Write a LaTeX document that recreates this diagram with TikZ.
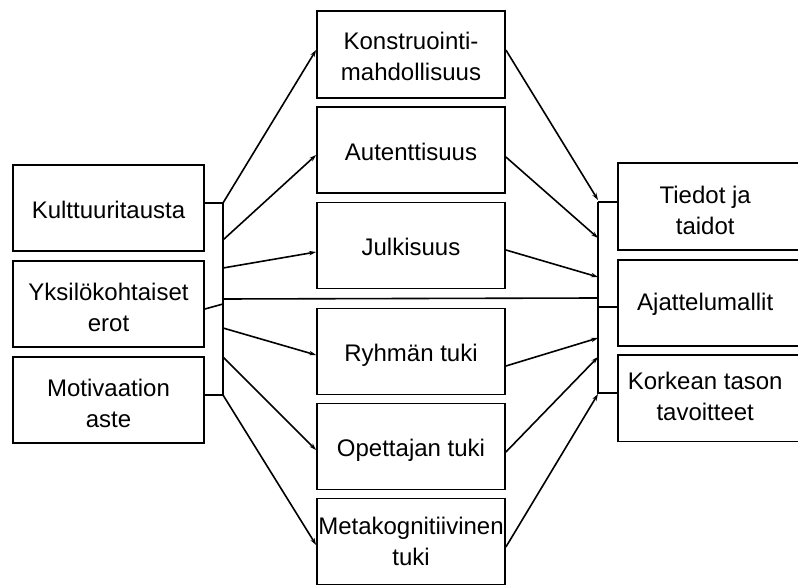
\documentclass[tikz,border=0pt]{standalone}
\usepackage{fontspec}
\setmainfont{Liberation Sans}
\usetikzlibrary{arrows.meta}
\newcommand{\boxtext}[2][-4pt]{\raisebox{#1}[\height][\depth]{\begin{tabular}{@{}c@{}}#2\end{tabular}}}
\begin{document}
\begin{tikzpicture}[x=1pt,y=-1pt,
  box/.style={draw, line width=1.8pt, inner sep=0pt,
    font=\fontsize{24}{31}\selectfont},
  lbox/.style={box, minimum width=191pt, minimum height=86pt},
  mbox/.style={box, minimum width=188pt, minimum height=86pt},
  rbox/.style={inner sep=0pt, anchor=north west,
    minimum width=174pt, minimum height=86pt, font=\fontsize{24}{31}\selectfont},
  conn/.style={line width=1.6pt},
  arr/.style={conn, -{Stealth[length=7pt,width=4.5pt]}}]
\clip (0,0) rectangle (798,585);
% left boxes
\node[lbox] (kult) at (108.5,208) {\boxtext{Kulttuuritausta}};
\node[lbox] (yks)  at (108.5,304) {\boxtext[-6pt]{Yksilökohtaiset\\erot}};
\node[lbox] (mot)  at (108.5,400) {\boxtext[-6pt]{Motivaation\\aste}};
% middle boxes
\node[mbox, minimum height=87pt] (kon) at (411,54.5) {\boxtext{Konstruointi-\\mahdollisuus}};
\node[mbox] (aut) at (411,150) {\boxtext{Autenttisuus}};
\node[mbox] (julk) at (411,245.5) {\boxtext{Julkisuus}};
\node[mbox] (ryh) at (411,351.5) {\boxtext{Ryhmän tuki}};
\node[mbox] (ope) at (411,446.5) {\boxtext{Opettajan tuki}};
\node[mbox] (met) at (411,541.5) {\boxtext[-2pt]{Metakognitiivinen\\tuki}};
% right boxes
\node[rbox, minimum height=87pt] (tie) at (618,163) {\boxtext[-6pt]{Tiedot ja\\taidot}};
\node[rbox] (aja) at (618,260) {\boxtext[-1pt]{Ajattelumallit}};
\node[rbox] (kor) at (618,355) {\boxtext[-1pt]{Korkean tason\\tavoitteet}};
\foreach \n in {tie,aja,kor}
  \draw[line width=1.8pt] (\n.north west) rectangle ([xshift=40pt]\n.south east);
% left bus
\coordinate (L1) at (223,203);
\coordinate (L2) at (223,240);
\coordinate (L3) at (223,268);
\coordinate (L4) at (223,299);
\coordinate (L5) at (223,328);
\coordinate (L6) at (223,357);
\coordinate (L7) at (223,395);
\draw[conn] (L1) -- (L7);
\draw[conn] ([yshift=5pt]kult.east) -- (L1);
\draw[conn] ([yshift=-5pt]yks.east) -- (yks.east -| L1);
\draw[conn] ([yshift=5pt]mot.east) -- (L7);
% right bus
\coordinate (R1) at (598,200);
\coordinate (R2) at (598,238);
\coordinate (R3) at (598,277);
\coordinate (R4) at (598,298);
\coordinate (R5) at (598,338);
\coordinate (R6) at (598,357);
\coordinate (R7) at (598,394);
\draw[conn] (598,202) -- (R7);
\draw[conn] (598,202) -- (tie.west |- 0,202);
\draw[conn] (598,307) -- (aja.west |- 0,307);
\draw[conn] (598,393) -- (kor.west |- 0,393);
% left to middle
\draw[arr] (L1) -- ([yshift=4.5pt]kon.west);
\draw[arr] (L2) -- ([yshift=-5pt]aut.west);
\draw[arr] (L3) -- ([yshift=-6.5pt]julk.west);
\draw[conn] (L4) -- (R4);
\draw[arr] (L5) -- ([yshift=-3.5pt]ryh.west);
\draw[arr] (L6) -- ([yshift=-3.5pt]ope.west);
\draw[arr] (L7) -- ([yshift=-3.5pt]met.west);
% middle to right
\draw[arr] ([yshift=4.5pt]kon.east) -- (R1);
\draw[arr] ([yshift=-7pt]aut.east) -- (R2);
\draw[arr] ([yshift=-4.5pt]julk.east) -- (R3);
\draw[arr] ([yshift=-14.5pt]ryh.east) -- (R5);
\draw[arr] ([yshift=-5.5pt]ope.east) -- (R6);
\draw[arr] ([yshift=-5.5pt]met.east) -- (R7);
\end{tikzpicture}
\end{document}
